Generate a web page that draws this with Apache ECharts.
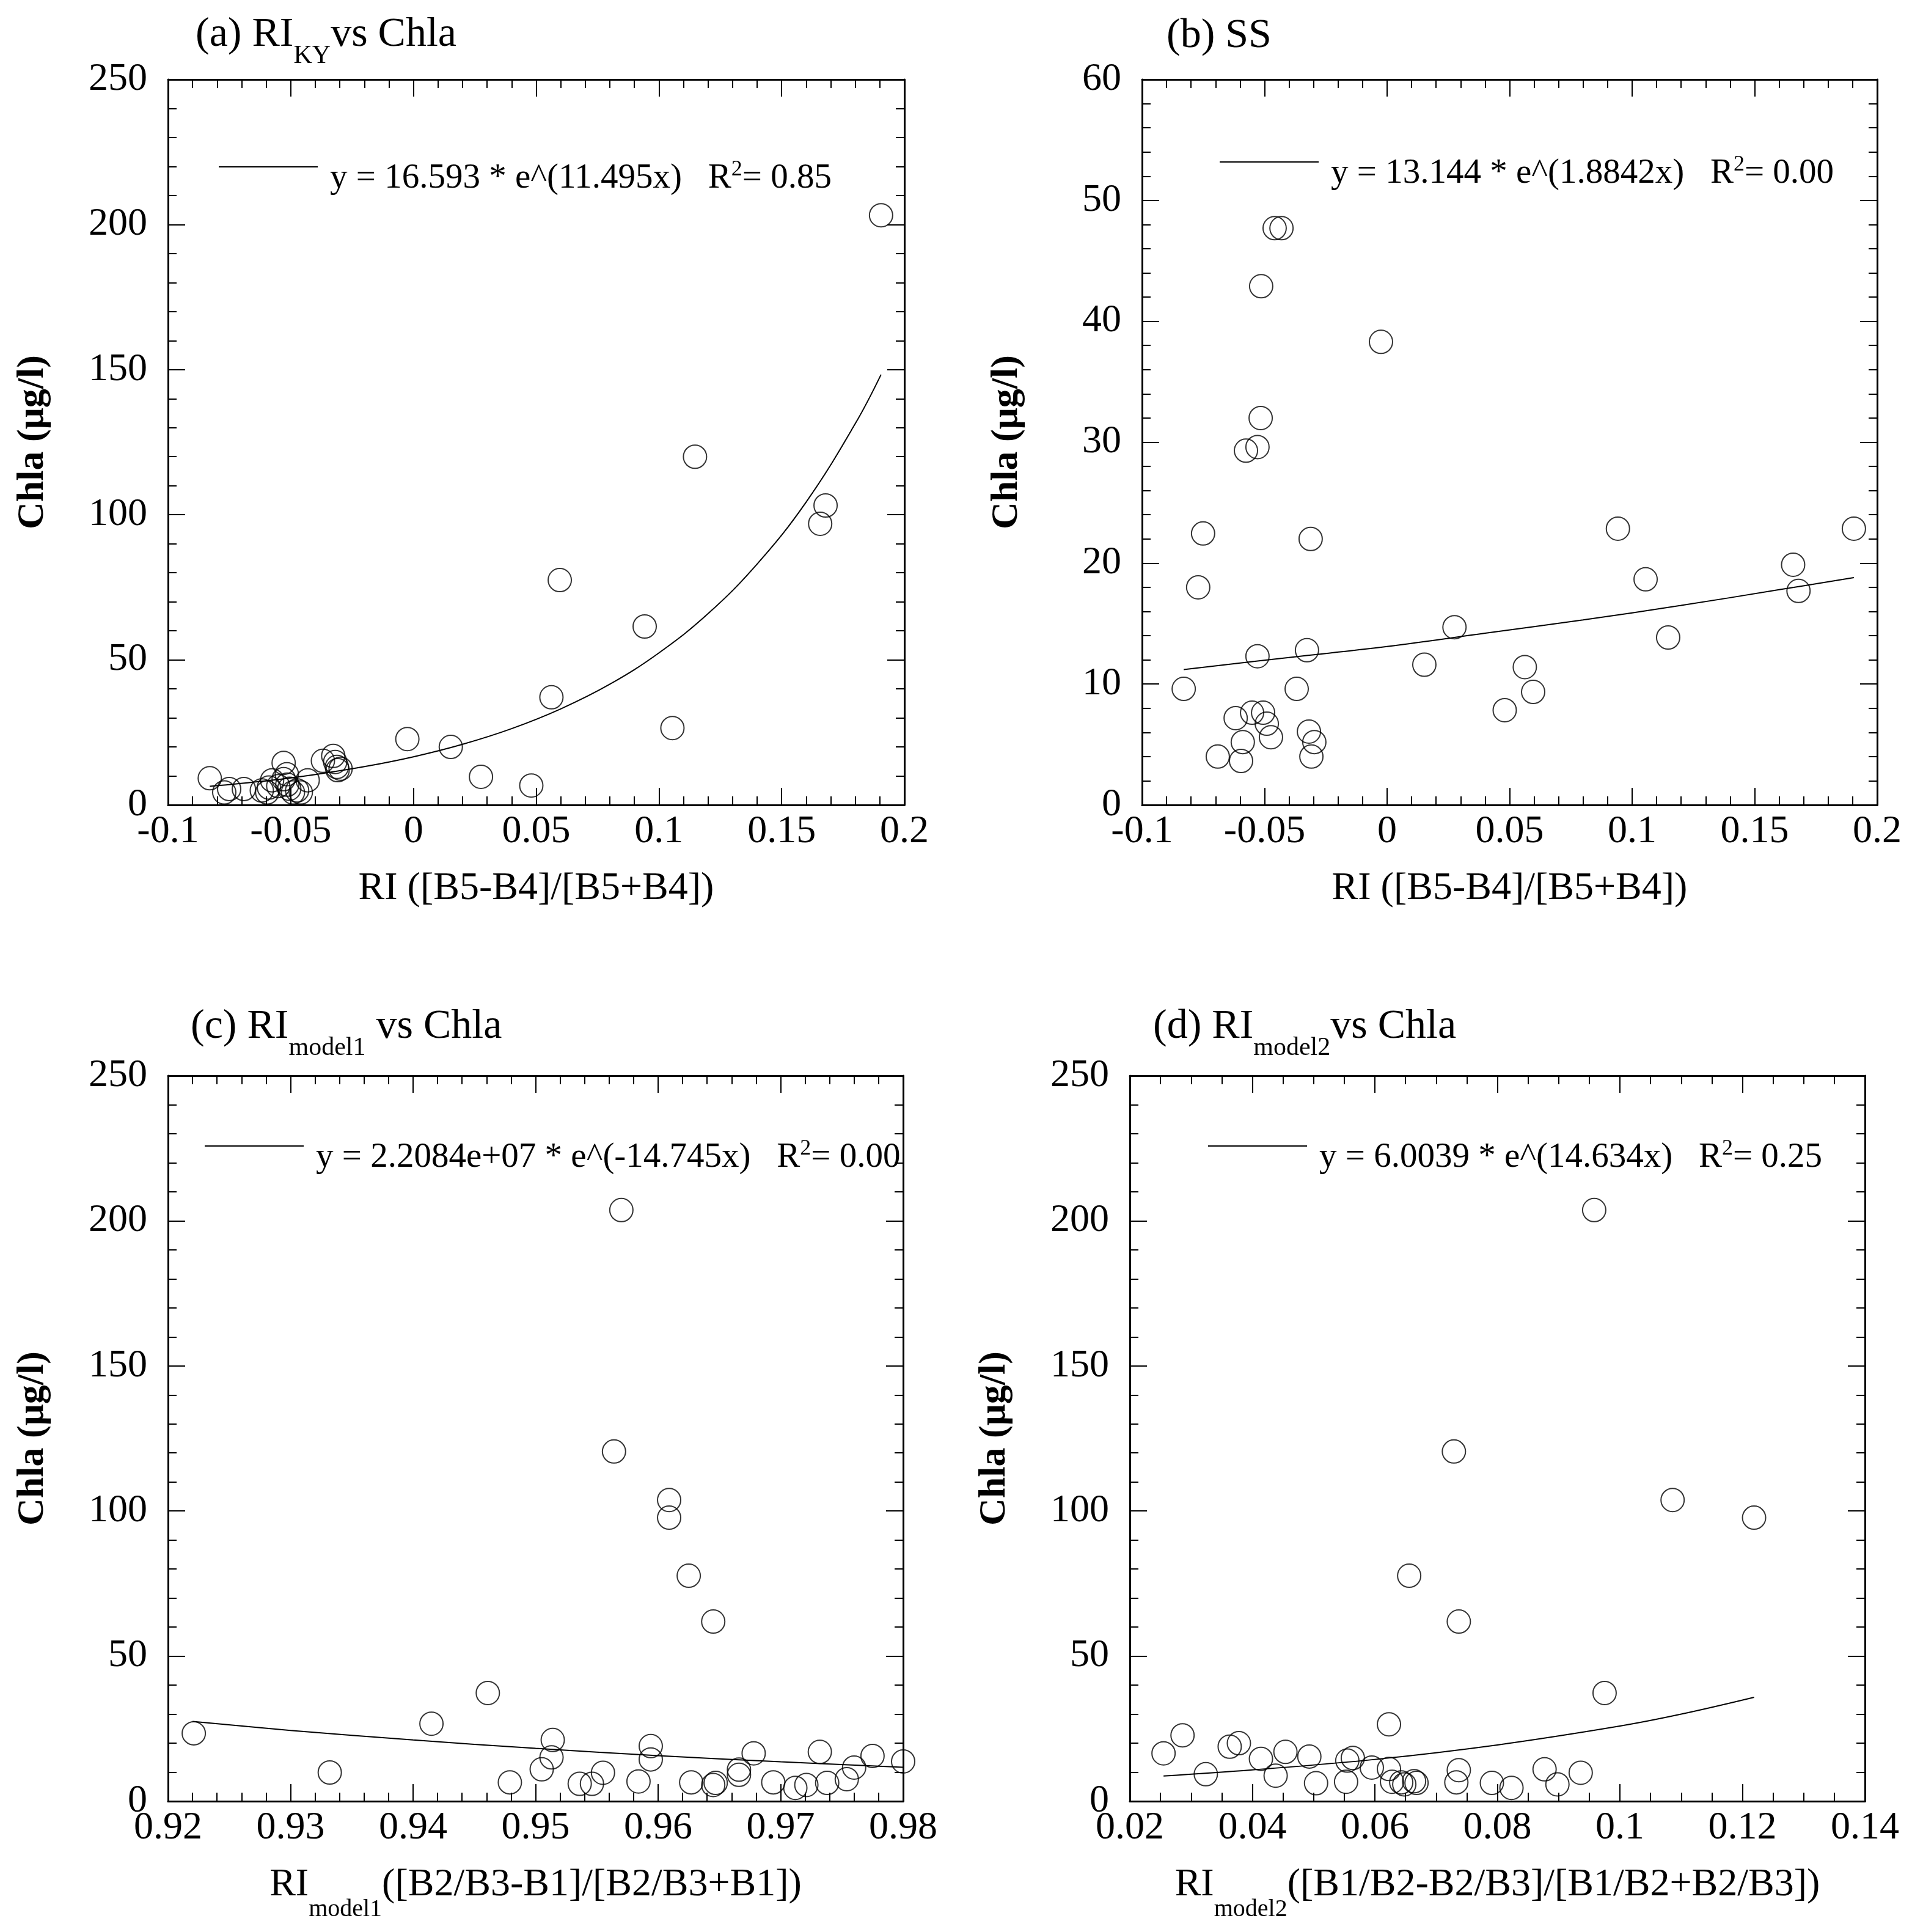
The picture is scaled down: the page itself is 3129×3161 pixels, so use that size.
<!DOCTYPE html>
<html>
<head>
<meta charset="utf-8">
<title>RI vs Chla</title>
<script src="https://cdn.jsdelivr.net/npm/echarts@6/dist/echarts.min.js"></script>
<style>
    html, body { margin: 0; padding: 0; background: #fff; }
    #chart { width: 3129px; height: 3161px; }
</style>
</head>
<body>
<div id="chart"></div>
<script>
// (a)(b) 共用的 RI_KY 横坐标
const riKY = [0.1905, 0.1657, 0.1679, 0.0942, 0.1055, 0.1147, 0.0275, 0.0152, 0.0562, 0.0596, 0.048, -0.0025,
    -0.0459, -0.0431, -0.0514, -0.0516, -0.0529, -0.0576, -0.0751, -0.0771, -0.083, -0.0691, -0.0596, -0.0589,
    -0.0618, -0.0551, -0.0506, -0.0491, -0.0474, -0.0529, -0.0369, -0.0327, -0.0312, -0.0319, -0.0297, -0.0309]
const chlaKY = [203.2, 96.9, 103.2, 61.5, 26.5, 120.0, 9.7, 20.0, 37.1, 77.5, 6.7, 22.7,
    4.3, 8.5, 7.0, 10.6, 8.9, 8.5, 5.5, 4.3, 9.2, 5.5, 4.3, 6.0,
    5.0, 6.5, 5.6, 4.3, 5.0, 14.5, 15.2, 16.9, 13.1, 14.8, 12.5, 12.0]
const ssKY = [22.85, 19.87, 17.7, 22.85, 18.66, 13.85, 14.7, 11.6, 11.4, 9.35, 7.84, 38.3,
    47.7, 47.7, 42.9, 32.0, 29.6, 29.3, 22.45, 18.0, 9.6, 4.0, 3.64, 5.2,
    7.18, 7.63, 7.63, 6.72, 5.6, 12.3, 9.6, 12.8, 22.0, 6.07, 5.2, 4.0]

// (c) RI_model1
const riM1 = [0.9514, 0.9513, 0.9505, 0.9479, 0.9536, 0.9546, 0.9555, 0.9594, 0.9594, 0.9584, 0.9627, 0.9647,
    0.9645, 0.9666, 0.9666, 0.9678, 0.9694, 0.9712, 0.9721, 0.9732, 0.9738, 0.9754, 0.976, 0.9775, 0.98,
    0.9221, 0.9332, 0.9415, 0.9461, 0.9564, 0.957, 0.9609, 0.9609, 0.9625, 0.9645]
const chlaM1 = [21.1, 15.1, 11.0, 6.5, 6.0, 6.0, 9.8, 19.0, 14.4, 6.8, 6.5, 6.3,
    5.6, 10.9, 9.1, 16.5, 6.5, 4.6, 5.6, 17.0, 6.3, 7.6, 11.6, 15.6, 13.7,
    23.4, 9.9, 26.7, 37.3, 120.5, 203.7, 103.8, 97.7, 77.7, 61.9]

// (d) RI_model2
const riM2 = [0.0255, 0.0286, 0.0324, 0.0363, 0.0378, 0.0414, 0.0438, 0.0454, 0.0493, 0.0504, 0.0553, 0.0555,
    0.0564, 0.0595, 0.0623, 0.0623, 0.0628, 0.0643, 0.0648, 0.0664, 0.0668, 0.0737, 0.0733, 0.0791, 0.0823,
    0.0877, 0.0898, 0.0936, 0.0958, 0.0729, 0.1086, 0.1219, 0.0656, 0.0737, 0.0975]
const chlaM2 = [16.5, 22.7, 9.3, 18.8, 20.0, 14.6, 8.8, 17.0, 15.4, 6.2, 6.7, 14.0,
    14.9, 11.6, 26.5, 11.1, 6.7, 6.5, 5.8, 6.9, 6.3, 10.7, 6.5, 6.3, 4.6,
    11.0, 5.8, 9.8, 203.7, 120.5, 103.8, 97.7, 77.7, 61.9, 37.3]

// 拟合曲线（从图上读出的点）
const fitAx = [-0.083, -0.06, -0.04, -0.02, 0, 0.02, 0.04, 0.06, 0.08, 0.1, 0.12, 0.14, 0.16, 0.18, 0.1905]
const fitAy = [6.4, 8.3, 10.5, 13.2, 16.6, 20.9, 26.3, 33.1, 41.6, 52.4, 65.9, 83.0, 104.4, 131.4, 148.3]
const fitBx = [-0.083, -0.04, 0, 0.04, 0.08, 0.12, 0.16, 0.1905]
const fitBy = [11.2, 12.2, 13.1, 14.2, 15.3, 16.5, 17.8, 18.8]
const fitCx = [0.922, 0.93, 0.94, 0.95, 0.96, 0.97, 0.98]
const fitCy = [27.5, 24.4, 21.1, 18.2, 15.7, 13.6, 11.7]
const fitDx = [0.0255, 0.04, 0.06, 0.08, 0.1, 0.11, 0.1219]
const fitDy = [8.7, 10.8, 14.4, 19.4, 25.9, 30.0, 35.8]

// 坐标轴范围 [min, max, interval]
const xRangeKY = [-0.1, 0.2, 0.05]
const xRangeM1 = [0.92, 0.98, 0.01]
const xRangeM2 = [0.02, 0.14, 0.02]
const yRangeChla = [0, 250, 50]
const yRangeSS = [0, 60, 10]

const FONT = 'Liberation Serif'
const zip = (xs, ys) => xs.map((x, i) => [x, ys[i]])

const grids = [
    { left: 275, top: 130, width: 1205, height: 1187 },
    { left: 1869, top: 130, width: 1203, height: 1187 },
    { left: 275, top: 1760, width: 1203, height: 1187 },
    { left: 1849, top: 1760, width: 1203, height: 1187 }
]

const subRich = {
    m: { fontFamily: FONT, fontSize: 64, color: '#000' },
    s: { fontFamily: FONT, fontSize: 40, color: '#000', padding: [80, 0, 0, 0] }
}

function axis(gi, range, minor, position, labels, name, nameGap, isY) {
    return {
        type: 'value', gridIndex: gi, position: position,
        min: range[0], max: range[1], interval: range[2],
        axisLine: { show: true, onZero: false, lineStyle: { color: '#000', width: 3 } },
        axisTick: { show: true, inside: true, length: 28, lineStyle: { color: '#000', width: 2 } },
        minorTick: { show: true, splitNumber: minor, length: 14, lineStyle: { color: '#000', width: 2 } },
        splitLine: { show: false },
        axisLabel: {
            show: labels, margin: isY ? 34 : 12, fontFamily: FONT, fontSize: 64, color: '#000',
            formatter: v => String(+v.toFixed(4))
        },
        name: name || '', nameLocation: 'middle', nameGap: nameGap,
        nameTextStyle: isY
            ? { fontFamily: FONT, fontSize: 62, fontWeight: 'bold', color: '#000' }
            : { fontFamily: FONT, fontSize: 64, color: '#000', rich: subRich }
    }
}

const yName = 'Chla (μg/l)'
const xAxis = [
    axis(0, xRangeKY, 5, 'bottom', true, 'RI ([B5-B4]/[B5+B4])', 105),
    axis(0, xRangeKY, 5, 'top', false),
    axis(1, xRangeKY, 5, 'bottom', true, 'RI ([B5-B4]/[B5+B4])', 105),
    axis(1, xRangeKY, 5, 'top', false),
    axis(2, xRangeM1, 5, 'bottom', true, '{m|RI}{s|model1}{m|([B2/B3-B1]/[B2/B3+B1])}', 77),
    axis(2, xRangeM1, 5, 'top', false),
    axis(3, xRangeM2, 4, 'bottom', true, '{m|RI}{s|model2}{m|([B1/B2-B2/B3]/[B1/B2+B2/B3])}', 77),
    axis(3, xRangeM2, 4, 'top', false)
]
const yAxis = [
    axis(0, yRangeChla, 5, 'left', true, yName, 190, true),
    axis(0, yRangeChla, 5, 'right', false, '', 0, true),
    axis(1, yRangeSS, 5, 'left', true, yName, 190, true),
    axis(1, yRangeSS, 5, 'right', false, '', 0, true),
    axis(2, yRangeChla, 5, 'left', true, yName, 190, true),
    axis(2, yRangeChla, 5, 'right', false, '', 0, true),
    axis(3, yRangeChla, 5, 'left', true, yName, 190, true),
    axis(3, yRangeChla, 5, 'right', false, '', 0, true)
]

function scatter(i, xs, ys) {
    return {
        type: 'scatter', xAxisIndex: 2 * i, yAxisIndex: 2 * i, data: zip(xs, ys),
        symbol: 'circle', symbolSize: 38, clip: false, silent: true,
        itemStyle: { color: 'rgba(0,0,0,0)', borderColor: '#000', borderWidth: 2 }
    }
}
function fit(i, name, xs, ys) {
    return {
        type: 'line', name: name, xAxisIndex: 2 * i, yAxisIndex: 2 * i, data: zip(xs, ys),
        smooth: 0.4, showSymbol: false, symbol: 'none', silent: true,
        itemStyle: { color: '#000' }, lineStyle: { color: '#000', width: 2 }
    }
}

// 图例里的拟合公式
const equations = {
    fitA: '{f|y = 16.593 * e^(11.495x)   R}{p|2}{t|= 0.85}',
    fitB: '{f|y = 13.144 * e^(1.8842x)   R}{p|2}{t|= 0.00}',
    fitC: '{f|y = 2.2084e+07 * e^(-14.745x)   R}{p|2}{t|= 0.00}',
    fitD: '{f|y = 6.0039 * e^(14.634x)   R}{p|2}{t|= 0.25}'
}
const legendRich = {
    f: { fontFamily: FONT, fontSize: 57, color: '#000', padding: [38, 0, 0, 15] },
    t: { fontFamily: FONT, fontSize: 57, color: '#000', padding: [38, 0, 0, 0] },
    p: { fontFamily: FONT, fontSize: 36, color: '#000', padding: [10, 0, 0, 0] }
}
function legend(name, left, top) {
    return {
        data: [name], left: left, top: top, padding: 0, icon: 'rect',
        itemWidth: 162, itemHeight: 2, selectedMode: false,
        formatter: n => equations[n],
        textStyle: { fontFamily: FONT, fontSize: 57, color: '#000', rich: legendRich }
    }
}

const titleRich = {
    m: { fontFamily: FONT, fontSize: 68, fontWeight: 'normal', color: '#000' },
    s: { fontFamily: FONT, fontSize: 42, fontWeight: 'normal', color: '#000', padding: [70, 0, 0, 0] }
}
function title(text, left, top) {
    return {
        text: text, left: left, top: top, padding: 0,
        textStyle: { fontFamily: FONT, fontSize: 68, fontWeight: 'normal', color: '#000', rich: titleRich }
    }
}

const myChart = echarts.init(document.getElementById('chart'), null, { renderer: 'canvas' })
const option = {
    backgroundColor: '#fff',
    animation: false,
    title: [
        title('{m|(a) RI}{s|KY}{m|vs Chla}', 320, 1),
        title('{m|(b) SS}', 1909, 25),
        title('{m|(c) RI}{s|model1}{m| vs Chla}', 312, 1624),
        title('{m|(d) RI}{s|model2}{m|vs Chla}', 1887, 1624)
    ],
    legend: [
        legend('fitA', 358, 260),
        legend('fitB', 1996, 252),
        legend('fitC', 335, 1862),
        legend('fitD', 1977, 1862)
    ],
    grid: grids.map(g => Object.assign({ outerBoundsMode: 'none', containLabel: false }, g)),
    xAxis: xAxis,
    yAxis: yAxis,
    series: [
        scatter(0, riKY, chlaKY), fit(0, 'fitA', fitAx, fitAy),
        scatter(1, riKY, ssKY), fit(1, 'fitB', fitBx, fitBy),
        scatter(2, riM1, chlaM1), fit(2, 'fitC', fitCx, fitCy),
        scatter(3, riM2, chlaM2), fit(3, 'fitD', fitDx, fitDy)
    ]
}
myChart.setOption(option)
</script>
</body>
</html>
